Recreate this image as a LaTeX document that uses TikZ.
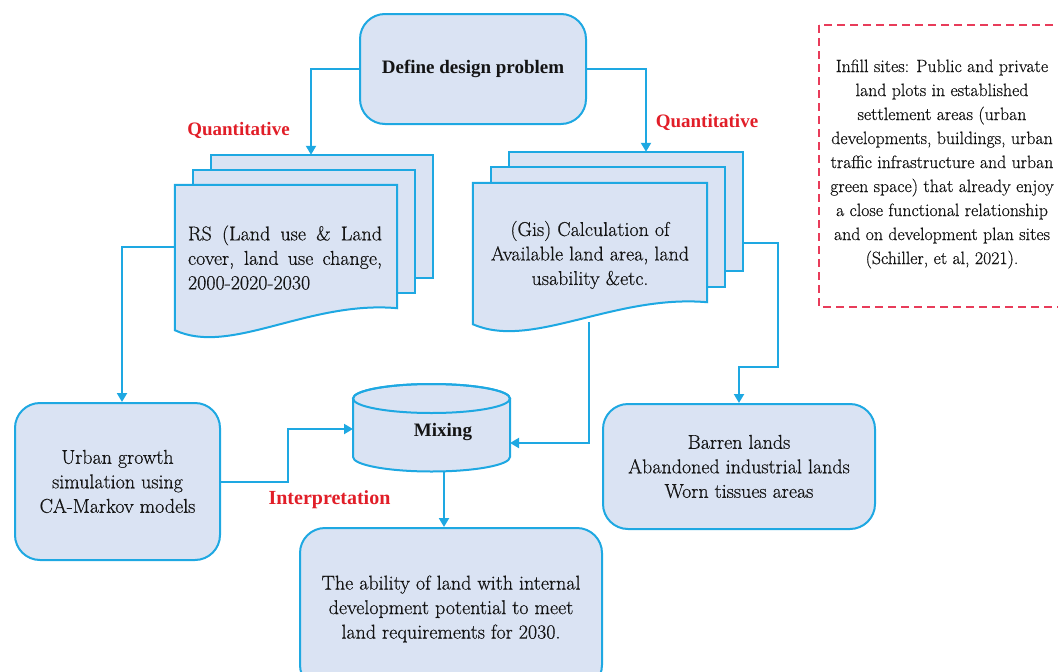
\documentclass[tikz,border=0pt]{standalone}
\usepackage{fontspec}
\setmainfont{Latin Modern Roman}[FakeBold=0.5]
\newfontfamily\lsb{Liberation Serif}
\usetikzlibrary{arrows.meta,calc}
\definecolor{bfill}{RGB}{218,227,243}
\definecolor{bline}{RGB}{30,168,226}
\definecolor{rtext}{RGB}{225,30,40}
\definecolor{rdash}{RGB}{232,60,90}
\definecolor{ink}{RGB}{20,20,20}
\hyphenpenalty=10000
\newcommand\wavepage[1]{%
  \path[pg] (#1.north west) -- (#1.north east) -- (#1.south east)
    .. controls ($(#1.south west)!0.6!(#1.south east)+(0,8pt)$) and ($(#1.south west)!0.25!(#1.south east)+(0,-48pt)$)
    .. ($(#1.south west)+(0,-22pt)$) -- cycle;}
\begin{document}
\begin{tikzpicture}[x=1pt,y=-1pt,
  box/.style={draw=bline, fill=bfill, line width=2pt, rounded corners=25pt, inner sep=0, text=ink,
    font=\fontsize{20}{24.5}\selectfont, align=center},
  txt/.style={text=ink, font=\fontsize{20}{24.5}\selectfont, align=center, inner sep=0},
  pg/.style={draw=bline, fill=bfill, line width=2pt},
  pgrect/.style={inner sep=0, minimum width=#1},
  arr/.style={draw=bline, line width=2pt, -{Triangle[length=9pt,width=10pt]}},
  lbl/.style={text=rtext, font=\lsb\bfseries\fontsize{19}{23}\selectfont, inner sep=0},
  notebox/.style={draw=rdash, line width=2pt, dash pattern=on 8pt off 5pt},
]
\useasboundingbox (0,0) rectangle (1058,672);
\clip (0,0) rectangle (1058,672);

% top box
\node[box, minimum width=226pt, minimum height=110pt, font=\lsb\bfseries\fontsize{19}{23}\selectfont] (dp) at (473,69) {Define design problem};

% left stack
\node[pgrect=222pt, minimum height=123pt] (L1) at (322,216.5) {};
\node[pgrect=222pt, minimum height=123pt] (L2) at (304,231.5) {};
\node[pgrect=222pt, minimum height=123pt] (L3) at (286,246.5) {};
\path[pg] (L1.north west) rectangle (L1.south east);
\path[pg] (L2.north west) rectangle (L2.south east);
\wavepage{L3}
\node[txt, text width=194pt, align=justify] (Lt) at (285,257.5) {RS (Land use \& Land cover, land use change, 2000-2020-2030};

% right stack
\node[pgrect=234pt, minimum height=119pt] (R1) at (626,211.5) {};
\node[pgrect=234pt, minimum height=119pt] (R2) at (608,227) {};
\node[pgrect=234pt, minimum height=119pt] (R3) at (590,242.5) {};
\path[pg] (R1.north west) rectangle (R1.south east);
\path[pg] (R2.north west) rectangle (R2.south east);
\wavepage{R3}
\node[txt] (Rt) at (590,255) {(Gis) Calculation of\\Available land area, land\\usability \&etc.};

% other boxes
\node[box, minimum width=205pt, minimum height=157pt] (urban) at (117.5,481.5) {Urban growth\\simulation using\\CA-Markov models};
\node[box, minimum width=272pt, minimum height=125pt] (barren) at (739,466.5) {Barren lands\\Abandoned industrial lands\\Worn tissues areas};
\node[box, minimum width=302pt, minimum height=162pt] (out) at (451,609) {The ability of land with internal\\development potential to meet\\land requirements for 2030.};

% cylinder
\path[pg] (353,398.5) -- (353,457) arc[start angle=180,end angle=360,x radius=78.5pt,y radius=14.5pt]
  -- (510,398.5) arc[start angle=0,end angle=180,x radius=78.5pt,y radius=14.5pt] -- cycle;
\draw[bline, line width=2pt] (431.5,398.5) ellipse[x radius=78.5pt, y radius=14.5pt];
\node[txt, font=\lsb\bfseries\fontsize{19}{23}\selectfont] (mix) at (443,432) {Mixing};
\coordinate (mixL) at (353,429);
\coordinate (mixR) at (510,443);
\coordinate (mixB) at (444,471);

% note
\draw[notebox] (819,25) rectangle (1070,307);
\node[txt, font=\fontsize{17.8}{24}\selectfont] (note) at (942,164) {Infill sites: Public and private\\land plots in established\\settlement areas (urban\\developments, buildings, urban\\traffic infrastructure and urban\\green space) that already enjoy\\a close functional relationship\\and on development plan sites\\(Schiller, et al, 2021).};

% labels
\node[lbl] (q1) at (238.5,130) {Quantitative};
\node[lbl] (q2) at (707,122) {Quantitative};
\node[lbl, font=\lsb\bfseries\fontsize{20}{24}\selectfont] (interp) at (329.5,500) {Interpretation};

% connectors
\draw[arr] (dp.west) -| ([xshift=-11pt]L1.north);
\draw[arr] (dp.east) -| ([xshift=20pt]R1.north);
\draw[arr] (L3.west) -| ([xshift=4.5pt]urban.north);
\draw[arr] (urban.east) -- ++(67,0) |- (mixL);
\draw[arr] ([xshift=-1pt,yshift=-20pt]R3.south) |- (mixR);
\draw[arr] ([yshift=-31.5pt]R1.east) -- ++(35,0) |- ([yshift=36pt]barren.north) -- (barren.north);
\draw[arr] (mixB) -- (mixB |- out.north);
\end{tikzpicture}
\end{document}
